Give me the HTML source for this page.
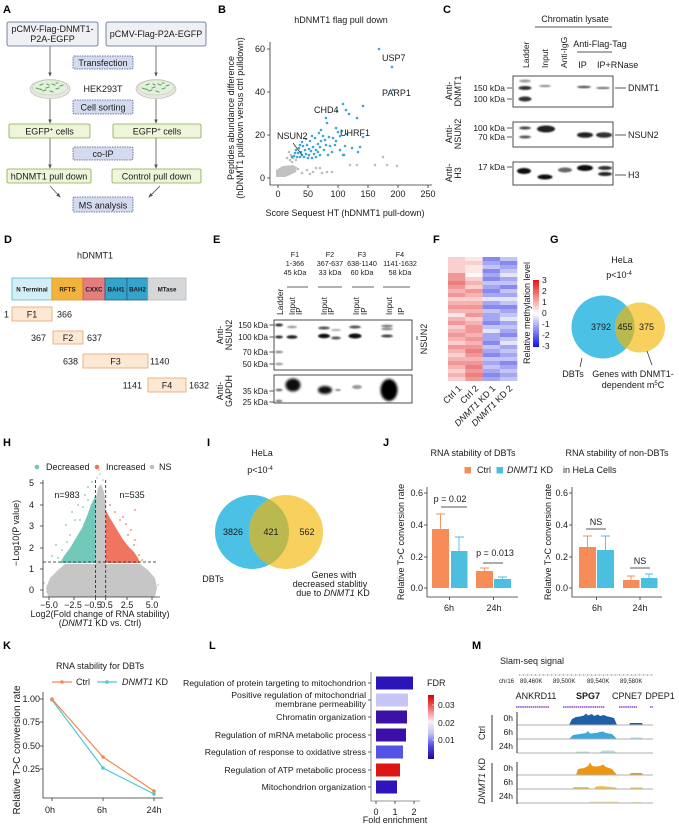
<!DOCTYPE html>
<html><head><meta charset="utf-8"><title>Figure</title>
<style>html,body{margin:0;padding:0;background:#fff}svg{display:block}</style>
</head><body>
<svg xmlns="http://www.w3.org/2000/svg" width="679" height="824" viewBox="0 0 679 824" font-family="'Liberation Sans', Arial, sans-serif" font-size="9" fill="#1a1a1a">
<defs>
 <marker id="ah" viewBox="0 0 6 6" refX="5" refY="3" markerWidth="5" markerHeight="5" orient="auto"><path d="M0,0.5L6,3L0,5.5z" fill="#555"/></marker>
 <filter id="bl" x="-50%" y="-200%" width="200%" height="500%"><feGaussianBlur stdDeviation="0.7"/></filter>
 <filter id="bl2" x="-50%" y="-50%" width="200%" height="200%"><feGaussianBlur stdDeviation="1.4"/></filter>
 <linearGradient id="mcb" x1="0" y1="0" x2="0" y2="1"><stop offset="0" stop-color="#ee1111"/><stop offset="0.5" stop-color="#ffffff"/><stop offset="1" stop-color="#1111ee"/></linearGradient>
 <linearGradient id="fdr" x1="0" y1="0" x2="0" y2="1"><stop offset="0" stop-color="#d40000"/><stop offset="0.2" stop-color="#ee6a6a"/><stop offset="0.42" stop-color="#f8eef4"/><stop offset="0.6" stop-color="#c4c4f4"/><stop offset="0.8" stop-color="#4a4ae2"/><stop offset="1" stop-color="#1e0a8e"/></linearGradient>
 <clipPath id="gc"><circle cx="603" cy="327" r="31.5"/></clipPath>
 <clipPath id="ic"><circle cx="252" cy="532" r="37"/></clipPath>
</defs>
<rect width="679" height="824" fill="#fff"/>

<!-- Panel letters -->
<g font-weight="bold" font-size="11" fill="#000">
<text x="3" y="13">A</text><text x="218" y="13">B</text><text x="443" y="13">C</text>
<text x="4" y="243">D</text><text x="213" y="243">E</text><text x="433" y="243">F</text><text x="550" y="243">G</text>
<text x="3" y="446">H</text><text x="207" y="446">I</text><text x="383" y="446">J</text>
<text x="3" y="649">K</text><text x="209" y="649">L</text><text x="472" y="649">M</text>
</g>

<!-- ============ Panel A ============ -->
<g stroke-width="0.8">
<rect x="7" y="22" width="91" height="24" rx="2" fill="#eef0f3" stroke="#55688c"/>
<rect x="106" y="22" width="100" height="24" rx="2" fill="#eef0f3" stroke="#55688c"/>
</g>
<g text-anchor="middle">
<text x="52.5" y="32">pCMV-Flag-DNMT1-</text>
<text x="52.5" y="42">P2A-EGFP</text>
<text x="156" y="37">pCMV-Flag-P2A-EGFP</text>
</g>
<g stroke="#666" stroke-width="0.9" fill="none" marker-end="url(#ah)">
<path d="M50,46V76"/><path d="M156,46V76"/>
<path d="M50,99V123"/><path d="M156,99V123"/>
<path d="M50,138V168"/><path d="M156,138V168"/>
<path d="M50,186L60,197"/><path d="M160,186L149,197"/>
</g>
<g id="dish">
<ellipse cx="50" cy="89" rx="20" ry="9.5" fill="#e9e5df" stroke="#b9b2a8" stroke-width="0.6"/>
<ellipse cx="50" cy="87.5" rx="17.5" ry="7.5" fill="#e3efdf" stroke="#c8c0b5" stroke-width="0.5"/>
<path d="M40,85l3,-1M46,88l3,-1M52,84l3,1M56,89l3,-1M43,91l3,-1M60,86l3,-1M36,88l3,1M50,91l3,1M47,84l2,1M56,83l2,0M40,89l2,1" stroke="#5aa84a" stroke-width="1.1" stroke-linecap="round"/>
</g>
<use href="#dish" x="106"/>
<text x="103" y="92" text-anchor="middle">HEK293T</text>
<g fill="#d4dbef" stroke="#4a5a8a" stroke-width="0.8" stroke-dasharray="1.5,1">
<rect x="73" y="56" width="60" height="13" rx="1.5"/>
<rect x="73" y="100" width="60" height="14" rx="1.5"/>
<rect x="73" y="147" width="60" height="13" rx="1.5"/>
<rect x="73" y="197" width="60" height="15" rx="1.5"/>
</g>
<g text-anchor="middle">
<text x="103" y="66">Transfection</text>
<text x="103" y="110.5">Cell sorting</text>
<text x="103" y="157">co-IP</text>
<text x="103" y="208.5">MS analysis</text>
</g>
<g fill="#edf5da" stroke="#8da74e" stroke-width="0.8">
<rect x="9" y="124" width="81" height="14" rx="1.5"/>
<rect x="113" y="124" width="88" height="14" rx="1.5"/>
<rect x="7" y="169" width="84" height="14" rx="1.5"/>
<rect x="112" y="169" width="89" height="14" rx="1.5"/>
</g>
<g text-anchor="middle">
<text x="49.5" y="134.5">EGFP<tspan font-size="6" dy="-3">+</tspan><tspan dy="3"> cells</tspan></text>
<text x="157" y="134.5">EGFP<tspan font-size="6" dy="-3">+</tspan><tspan dy="3"> cells</tspan></text>
<text x="49" y="179.5">hDNMT1 pull down</text>
<text x="156.5" y="179.5">Control pull down</text>
</g>

<!-- ============ Panel B ============ -->
<text x="341" y="23" text-anchor="middle">hDNMT1 flag pull down</text>
<g stroke="#333" stroke-width="0.8" fill="none">
<path d="M270,42V185H432"/>
<path d="M267,49H270M267,92H270M267,135H270M267,178H270"/>
<path d="M278,185V188M308,185V188M338,185V188M368,185V188M398,185V188M428,185V188"/>
</g>
<g text-anchor="end"><text x="265" y="52">60</text><text x="265" y="95">40</text><text x="265" y="138">20</text><text x="265" y="181">0</text></g>
<g text-anchor="middle"><text x="278" y="197">0</text><text x="308" y="197">50</text><text x="338" y="197">100</text><text x="368" y="197">150</text><text x="398" y="197">200</text><text x="428" y="197">250</text></g>
<text x="345" y="216" text-anchor="middle">Score Sequest HT (hDNMT1 pull-down)</text>
<g text-anchor="middle">
<text transform="translate(234,118) rotate(-90)">Peptides abundance difference</text>
<text transform="translate(243,118) rotate(-90)">(hDNMT1 pulldown versus ctrl pulldown)</text>
</g>
<path d="M276,170L283,166L293,165L297,167L296,172L290,175L285,177L276,177Z" fill="#c2c2c2"/>
<path d="M289,152h0M291,155h0M293,158h0M296,160h0M290,160h0M287,158h0M292,162h0M302,173h0M307,170h0M313,172h0M320,168h0M322,173h0M327,172h0M332,172h0M350,165h0M357,165h0M375,165h0M387,165h0M397,166h0M383,157h0M282,168h0M288,170h0M280,174h0M298,169h0M310,174h0M316,168h0" stroke="#bdbdbd" stroke-width="2.6" stroke-linecap="round"/>
<path d="M379,49h0M392,67h0M393,90h0M343,104h0M346,110h0M337,111h0M363,106h0M357,118h0M326,118h0M327,123h0M349,114h0M336,128h0M338,132h0M342,131h0M347,134h0M340,136h0M333,138h0M329,137h0M325,140h0M321,141h0M318,144h0M330,146h0M335,145h0M345,146h0M352,148h0M340,150h0M324,150h0M316,150h0M360,147h0M358,152h0M344,155h0M332,152h0M328,155h0M320,155h0M313,147h0M310,141h0M307,145h0M305,150h0M309,155h0M301,152h0M299,148h0M303,146h0M296,150h0M298,153h0M294,156h0M297,157h0M300,157h0M304,157h0M308,158h0M312,158h0M316,157h0M302,142h0M306,139h0M312,136h0M315,138h0M319,133h0M321,130h0M300,145h0M311,151h0M314,154h0M320,147h0M326,145h0M336,141h0M363,137h0M343,155h0M323,136h0M295,153h0M292,157h0M306,154h0M302,155h0M318,152h0M309,149h0" stroke="#3da5dc" stroke-width="2.6" stroke-linecap="round"/>
<path d="M293,143L302,155" stroke="#222" stroke-width="0.7"/>
<text x="382" y="61">USP7</text>
<text x="382" y="96">PARP1</text>
<text x="314" y="113">CHD4</text>
<text x="340" y="136">UHRF1</text>
<text x="277" y="139">NSUN2</text>

<!-- ============ Panel C ============ -->
<text x="575" y="22" text-anchor="middle">Chromatin lysate</text>
<path d="M535,27H612M577,52H612" stroke="#222" stroke-width="0.8"/>
<text x="600" y="47" text-anchor="middle">Anti-Flag-Tag</text>
<g font-size="8.5">
<text transform="translate(529,68) rotate(-90)">Ladder</text>
<text transform="translate(548,68) rotate(-90)">Input</text>
<text transform="translate(567,68) rotate(-90)">Anti-IgG</text>
</g>
<text x="582.5" y="68" text-anchor="middle">IP</text>
<text x="597" y="68">IP+RNase</text>
<g fill="#fff" stroke="#222" stroke-width="0.8">
<rect x="513" y="76" width="100" height="31"/>
<rect x="513" y="122" width="100" height="25"/>
<rect x="513" y="162" width="100" height="23"/>
</g>
<g filter="url(#bl)">
<ellipse cx="525" cy="81" rx="6" ry="1.5" fill="#999"/>
<ellipse cx="525" cy="88" rx="6.5" ry="2" fill="#333"/>
<ellipse cx="525" cy="99" rx="6.5" ry="2.5" fill="#333"/>
<ellipse cx="545" cy="86" rx="6" ry="1" fill="#888"/>
<ellipse cx="584" cy="87" rx="7" ry="1.2" fill="#555"/>
<ellipse cx="603" cy="88" rx="7" ry="1" fill="#666"/>
<ellipse cx="525" cy="128" rx="6" ry="1.5" fill="#444"/>
<ellipse cx="525" cy="137" rx="6" ry="1.5" fill="#555"/>
<ellipse cx="546" cy="129" rx="9" ry="3.5" fill="#222"/>
<ellipse cx="585" cy="135" rx="8" ry="2.8" fill="#222"/>
<ellipse cx="604" cy="135" rx="8" ry="2.8" fill="#333"/>
<ellipse cx="524" cy="171" rx="7" ry="3" fill="#111"/>
<ellipse cx="545" cy="177" rx="7.5" ry="2.5" fill="#111"/>
<ellipse cx="565" cy="170" rx="7" ry="2.5" fill="#666"/>
<ellipse cx="585" cy="168" rx="8" ry="3" fill="#111"/>
<ellipse cx="605" cy="168" rx="7" ry="2" fill="#333"/>
<ellipse cx="605" cy="174" rx="7" ry="2" fill="#222"/>
</g>
<g font-size="8.5" text-anchor="end">
<text x="505" y="91">150 kDa</text><text x="505" y="102">100 kDa</text>
<text x="505" y="131">100 kDa</text><text x="505" y="140">70 kDa</text>
<text x="505" y="170">17 kDa</text>
</g>
<path d="M507,88H512M507,99H512M507,128H512M507,137H512M507,167H512M615,88H626M615,135H626M615,175H626" stroke="#222" stroke-width="0.8"/>
<text x="628" y="91">DNMT1</text>
<text x="628" y="138">NSUN2</text>
<text x="628" y="178">H3</text>
<g text-anchor="middle">
<text transform="translate(452,91) rotate(-90)">Anti-</text>
<text transform="translate(461,91) rotate(-90)">DNMT1</text>
<text transform="translate(452,134) rotate(-90)">Anti-</text>
<text transform="translate(461,134) rotate(-90)">NSUN2</text>
<text transform="translate(452,173) rotate(-90)">Anti-</text>
<text transform="translate(461,173) rotate(-90)">H3</text>
</g>

<!-- ============ Panel D ============ -->
<text x="95" y="258.5" text-anchor="middle">hDNMT1</text>
<g stroke-width="0.8">
<rect x="12" y="278" width="40" height="22" fill="#d4eef5" stroke="#55b8d5"/>
<rect x="52" y="278" width="31" height="22" fill="#f2b33d" stroke="#d59a2c"/>
<rect x="83" y="278" width="22" height="22" fill="#e47d7e" stroke="#c86060"/>
<rect x="105" y="278" width="22" height="22" fill="#36a3cb" stroke="#1d5f80"/>
<rect x="127" y="278" width="21" height="22" fill="#36a3cb" stroke="#1d5f80"/>
<rect x="148" y="278" width="38" height="22" fill="#d5d7d9" stroke="#b8babc"/>
</g>
<g font-size="6.2" font-weight="bold" text-anchor="middle">
<text x="32" y="291.5">N Terminal</text><text x="67.5" y="291.5">RFTS</text><text x="94" y="291.5">CXXC</text>
<text x="116" y="291.5">BAH1</text><text x="137.5" y="291.5">BAH2</text><text x="167" y="291.5">MTase</text>
</g>
<g fill="#fde8d4" stroke="#e8a46e" stroke-width="0.8">
<rect x="12" y="307" width="40" height="14"/>
<rect x="53" y="331" width="30" height="13"/>
<rect x="83" y="354" width="65" height="14"/>
<rect x="148" y="378" width="38" height="14"/>
</g>
<g text-anchor="middle"><text x="32" y="317.5">F1</text><text x="68" y="341">F2</text><text x="115.5" y="364.5">F3</text><text x="167" y="388.5">F4</text><text x="6.5" y="317.5">1</text></g>
<text x="57" y="317.5">366</text>
<text x="46" y="341" text-anchor="end">367</text><text x="87" y="341">637</text>
<text x="78" y="364.5" text-anchor="end">638</text><text x="150" y="364.5">1140</text>
<text x="142" y="388.5" text-anchor="end">1141</text><text x="189" y="388.5">1632</text>

<!-- ============ Panel E ============ -->
<g font-size="7.2" text-anchor="middle">
<text x="295" y="257">F1</text><text x="295" y="266">1-366</text><text x="295" y="275">45 kDa</text>
<text x="330" y="257">F2</text><text x="330" y="266">367-637</text><text x="330" y="275">33 kDa</text>
<text x="362" y="257">F3</text><text x="362" y="266">638-1140</text><text x="362" y="275">60 kDa</text>
<text x="400" y="257">F4</text><text x="400" y="266">1141-1632</text><text x="400" y="275">58 kDa</text>
</g>
<path d="M287,287H308M318,287H342M352,287H374M383,287H410" stroke="#333" stroke-width="0.7"/>
<g font-size="8">
<text transform="translate(283,315) rotate(-90)" font-size="8.5">Ladder</text>
<text transform="translate(295,315) rotate(-90)">Input</text>
<text transform="translate(302,315) rotate(-90)">IP</text>
<text transform="translate(327,315) rotate(-90)">Input</text>
<text transform="translate(334,315) rotate(-90)">IP</text>
<text transform="translate(359,315) rotate(-90)">Input</text>
<text transform="translate(367,315) rotate(-90)">IP</text>
<text transform="translate(392,315) rotate(-90)">Input</text>
<text transform="translate(404,315) rotate(-90)">IP</text>
</g>
<g fill="#fff" stroke="#222" stroke-width="0.8">
<rect x="274" y="320" width="138" height="50"/>
<rect x="274" y="375" width="138" height="28"/>
</g>
<g filter="url(#bl)">
<ellipse cx="279" cy="325" rx="4" ry="1.5" fill="#333"/>
<ellipse cx="279" cy="337" rx="4" ry="1.5" fill="#333"/>
<ellipse cx="279" cy="352" rx="4" ry="1.2" fill="#888"/>
<ellipse cx="279" cy="364" rx="4" ry="1.2" fill="#999"/>
<ellipse cx="292" cy="327" rx="5" ry="1.2" fill="#999"/>
<ellipse cx="292" cy="337" rx="5.5" ry="1.8" fill="#222"/>
<ellipse cx="324" cy="328" rx="6" ry="1.5" fill="#555"/>
<ellipse cx="324" cy="336" rx="6" ry="2.2" fill="#111"/>
<ellipse cx="336" cy="330" rx="5" ry="1" fill="#aaa"/>
<ellipse cx="336" cy="338" rx="5" ry="1.5" fill="#555"/>
<ellipse cx="355" cy="327" rx="6" ry="1.5" fill="#555"/>
<ellipse cx="355" cy="336" rx="6.5" ry="2.5" fill="#111"/>
<ellipse cx="387" cy="326" rx="6" ry="1.2" fill="#777"/>
<ellipse cx="387" cy="329" rx="6" ry="1.2" fill="#888"/>
<ellipse cx="387" cy="336" rx="6" ry="1.5" fill="#444"/>
<ellipse cx="279" cy="390" rx="3.5" ry="1.2" fill="#666"/>
<ellipse cx="279" cy="401" rx="3.5" ry="1.2" fill="#777"/>
<ellipse cx="338" cy="390" rx="3" ry="1" fill="#888"/>
<ellipse cx="357" cy="387" rx="5" ry="2" fill="#999"/>
</g>
<g filter="url(#bl2)">
<ellipse cx="293" cy="385" rx="7.5" ry="6.5" fill="#111"/>
<ellipse cx="325" cy="390" rx="7" ry="4" fill="#111"/>
<ellipse cx="389" cy="390" rx="8.5" ry="11" fill="#000"/>
</g>
<g font-size="8" text-anchor="end">
<text x="268" y="328">150 kDa</text><text x="268" y="340">100 kDa</text><text x="268" y="355">70 kDa</text><text x="268" y="367">50 kDa</text>
<text x="268" y="394">35 kDa</text><text x="268" y="405">25 kDa</text>
</g>
<path d="M269.5,325H273.5M269.5,337H273.5M269.5,352H273.5M269.5,364H273.5M269.5,391H273.5M269.5,402H273.5M417,336V340" stroke="#222" stroke-width="0.8"/>
<g text-anchor="middle">
<text transform="translate(223,335) rotate(-90)">Anti-</text>
<text transform="translate(232,335) rotate(-90)">NSUN2</text>
<text transform="translate(223,391) rotate(-90)">Anti-</text>
<text transform="translate(232,391) rotate(-90)">GAPDH</text>
<text transform="translate(427,339) rotate(-90)">NSUN2</text>
</g>

<!-- ============ Panel F ============ -->
<g>
<rect x="448" y="257" width="17.4" height="4" fill="#f9cfcf"/><rect x="448" y="261" width="17.4" height="4" fill="#f9cfcf"/><rect x="448" y="265" width="17.4" height="4" fill="#f9cfcf"/><rect x="448" y="269" width="17.4" height="4" fill="#f9cfcf"/><rect x="448" y="273" width="17.4" height="4" fill="#f19797"/><rect x="448" y="277" width="17.4" height="4" fill="#f19797"/><rect x="448" y="281" width="17.4" height="4" fill="#ec7f7f"/><rect x="448" y="285" width="17.4" height="4" fill="#f19797"/><rect x="448" y="289" width="17.4" height="4" fill="#f5b3b3"/><rect x="448" y="293" width="17.4" height="4" fill="#f19797"/><rect x="448" y="297" width="17.4" height="4" fill="#f9cfcf"/><rect x="448" y="301" width="17.4" height="4" fill="#f5b3b3"/><rect x="448" y="305" width="17.4" height="4" fill="#f19797"/><rect x="448" y="309" width="17.4" height="4" fill="#f5b3b3"/><rect x="448" y="313" width="17.4" height="4" fill="#fde6e6"/><rect x="448" y="317" width="17.4" height="4" fill="#f5b3b3"/><rect x="448" y="321" width="17.4" height="4" fill="#f19797"/><rect x="448" y="325" width="17.4" height="4" fill="#f9cfcf"/><rect x="448" y="329" width="17.4" height="4" fill="#f5b3b3"/><rect x="448" y="333" width="17.4" height="4" fill="#f19797"/><rect x="448" y="337" width="17.4" height="4" fill="#f5b3b3"/><rect x="448" y="341" width="17.4" height="4" fill="#f9cfcf"/><rect x="448" y="345" width="17.4" height="4" fill="#f19797"/><rect x="448" y="349" width="17.4" height="4" fill="#f5b3b3"/><rect x="448" y="353" width="17.4" height="4" fill="#f9cfcf"/><rect x="448" y="357" width="17.4" height="4" fill="#f5b3b3"/><rect x="448" y="361" width="17.4" height="4" fill="#f19797"/><rect x="448" y="365" width="17.4" height="4" fill="#f5b3b3"/><rect x="448" y="369" width="17.4" height="4" fill="#f9cfcf"/><rect x="448" y="373" width="17.4" height="4" fill="#f5b3b3"/><rect x="448" y="377" width="17.4" height="4" fill="#f9cfcf"/>
<rect x="465.3" y="257" width="17.4" height="4" fill="#fde6e6"/><rect x="465.3" y="261" width="17.4" height="4" fill="#f9cfcf"/><rect x="465.3" y="265" width="17.4" height="4" fill="#fde6e6"/><rect x="465.3" y="269" width="17.4" height="4" fill="#fde6e6"/><rect x="465.3" y="273" width="17.4" height="4" fill="#fff6f6"/><rect x="465.3" y="277" width="17.4" height="4" fill="#f9cfcf"/><rect x="465.3" y="281" width="17.4" height="4" fill="#f5b3b3"/><rect x="465.3" y="285" width="17.4" height="4" fill="#f9cfcf"/><rect x="465.3" y="289" width="17.4" height="4" fill="#f19797"/><rect x="465.3" y="293" width="17.4" height="4" fill="#f5b3b3"/><rect x="465.3" y="297" width="17.4" height="4" fill="#f9cfcf"/><rect x="465.3" y="301" width="17.4" height="4" fill="#f5b3b3"/><rect x="465.3" y="305" width="17.4" height="4" fill="#f19797"/><rect x="465.3" y="309" width="17.4" height="4" fill="#f5b3b3"/><rect x="465.3" y="313" width="17.4" height="4" fill="#f19797"/><rect x="465.3" y="317" width="17.4" height="4" fill="#f9cfcf"/><rect x="465.3" y="321" width="17.4" height="4" fill="#f5b3b3"/><rect x="465.3" y="325" width="17.4" height="4" fill="#f19797"/><rect x="465.3" y="329" width="17.4" height="4" fill="#f19797"/><rect x="465.3" y="333" width="17.4" height="4" fill="#f5b3b3"/><rect x="465.3" y="337" width="17.4" height="4" fill="#f19797"/><rect x="465.3" y="341" width="17.4" height="4" fill="#f5b3b3"/><rect x="465.3" y="345" width="17.4" height="4" fill="#f19797"/><rect x="465.3" y="349" width="17.4" height="4" fill="#ec7f7f"/><rect x="465.3" y="353" width="17.4" height="4" fill="#f19797"/><rect x="465.3" y="357" width="17.4" height="4" fill="#f5b3b3"/><rect x="465.3" y="361" width="17.4" height="4" fill="#f19797"/><rect x="465.3" y="365" width="17.4" height="4" fill="#ec7f7f"/><rect x="465.3" y="369" width="17.4" height="4" fill="#f19797"/><rect x="465.3" y="373" width="17.4" height="4" fill="#ec7f7f"/><rect x="465.3" y="377" width="17.4" height="4" fill="#f19797"/>
<rect x="482.6" y="257" width="17.4" height="4" fill="#8789ee"/><rect x="482.6" y="261" width="17.4" height="4" fill="#a5a7f2"/><rect x="482.6" y="265" width="17.4" height="4" fill="#c4c5f6"/><rect x="482.6" y="269" width="17.4" height="4" fill="#8789ee"/><rect x="482.6" y="273" width="17.4" height="4" fill="#a5a7f2"/><rect x="482.6" y="277" width="17.4" height="4" fill="#8789ee"/><rect x="482.6" y="281" width="17.4" height="4" fill="#c4c5f6"/><rect x="482.6" y="285" width="17.4" height="4" fill="#a5a7f2"/><rect x="482.6" y="289" width="17.4" height="4" fill="#8789ee"/><rect x="482.6" y="293" width="17.4" height="4" fill="#a5a7f2"/><rect x="482.6" y="297" width="17.4" height="4" fill="#e4e4fb"/><rect x="482.6" y="301" width="17.4" height="4" fill="#a5a7f2"/><rect x="482.6" y="305" width="17.4" height="4" fill="#8789ee"/><rect x="482.6" y="309" width="17.4" height="4" fill="#c4c5f6"/><rect x="482.6" y="313" width="17.4" height="4" fill="#a5a7f2"/><rect x="482.6" y="317" width="17.4" height="4" fill="#a5a7f2"/><rect x="482.6" y="321" width="17.4" height="4" fill="#8789ee"/><rect x="482.6" y="325" width="17.4" height="4" fill="#c4c5f6"/><rect x="482.6" y="329" width="17.4" height="4" fill="#e4e4fb"/><rect x="482.6" y="333" width="17.4" height="4" fill="#a5a7f2"/><rect x="482.6" y="337" width="17.4" height="4" fill="#a5a7f2"/><rect x="482.6" y="341" width="17.4" height="4" fill="#8789ee"/><rect x="482.6" y="345" width="17.4" height="4" fill="#c4c5f6"/><rect x="482.6" y="349" width="17.4" height="4" fill="#a5a7f2"/><rect x="482.6" y="353" width="17.4" height="4" fill="#8789ee"/><rect x="482.6" y="357" width="17.4" height="4" fill="#c4c5f6"/><rect x="482.6" y="361" width="17.4" height="4" fill="#a5a7f2"/><rect x="482.6" y="365" width="17.4" height="4" fill="#c4c5f6"/><rect x="482.6" y="369" width="17.4" height="4" fill="#a5a7f2"/><rect x="482.6" y="373" width="17.4" height="4" fill="#8789ee"/><rect x="482.6" y="377" width="17.4" height="4" fill="#a5a7f2"/>
<rect x="499.9" y="257" width="17.4" height="4" fill="#c4c5f6"/><rect x="499.9" y="261" width="17.4" height="4" fill="#8789ee"/><rect x="499.9" y="265" width="17.4" height="4" fill="#a5a7f2"/><rect x="499.9" y="269" width="17.4" height="4" fill="#c4c5f6"/><rect x="499.9" y="273" width="17.4" height="4" fill="#e4e4fb"/><rect x="499.9" y="277" width="17.4" height="4" fill="#a5a7f2"/><rect x="499.9" y="281" width="17.4" height="4" fill="#c4c5f6"/><rect x="499.9" y="285" width="17.4" height="4" fill="#8789ee"/><rect x="499.9" y="289" width="17.4" height="4" fill="#c4c5f6"/><rect x="499.9" y="293" width="17.4" height="4" fill="#a5a7f2"/><rect x="499.9" y="297" width="17.4" height="4" fill="#e4e4fb"/><rect x="499.9" y="301" width="17.4" height="4" fill="#c4c5f6"/><rect x="499.9" y="305" width="17.4" height="4" fill="#8789ee"/><rect x="499.9" y="309" width="17.4" height="4" fill="#a5a7f2"/><rect x="499.9" y="313" width="17.4" height="4" fill="#c4c5f6"/><rect x="499.9" y="317" width="17.4" height="4" fill="#e4e4fb"/><rect x="499.9" y="321" width="17.4" height="4" fill="#a5a7f2"/><rect x="499.9" y="325" width="17.4" height="4" fill="#c4c5f6"/><rect x="499.9" y="329" width="17.4" height="4" fill="#a5a7f2"/><rect x="499.9" y="333" width="17.4" height="4" fill="#8789ee"/><rect x="499.9" y="337" width="17.4" height="4" fill="#c4c5f6"/><rect x="499.9" y="341" width="17.4" height="4" fill="#e4e4fb"/><rect x="499.9" y="345" width="17.4" height="4" fill="#a5a7f2"/><rect x="499.9" y="349" width="17.4" height="4" fill="#c4c5f6"/><rect x="499.9" y="353" width="17.4" height="4" fill="#a5a7f2"/><rect x="499.9" y="357" width="17.4" height="4" fill="#c4c5f6"/><rect x="499.9" y="361" width="17.4" height="4" fill="#8789ee"/><rect x="499.9" y="365" width="17.4" height="4" fill="#a5a7f2"/><rect x="499.9" y="369" width="17.4" height="4" fill="#c4c5f6"/><rect x="499.9" y="373" width="17.4" height="4" fill="#a5a7f2"/><rect x="499.9" y="377" width="17.4" height="4" fill="#c4c5f6"/>
</g>
<rect x="533" y="280" width="6" height="67" fill="url(#mcb)"/>
<g font-size="8.5">
<text x="542" y="283">3</text><text x="542" y="294">2</text><text x="542" y="305">1</text><text x="542" y="316">0</text><text x="542" y="327">-1</text><text x="542" y="338">-2</text><text x="542" y="349">-3</text>
</g>
<text transform="translate(530,313) rotate(-90)" text-anchor="middle">Relative methylation level</text>
<g text-anchor="end">
<text transform="translate(462,389) rotate(-45)">Ctrl 1</text>
<text transform="translate(479,389) rotate(-45)">Ctrl 2</text>
<text transform="translate(496,389) rotate(-45)"><tspan font-style="italic">DNMT1</tspan> KD 1</text>
<text transform="translate(513,389) rotate(-45)"><tspan font-style="italic">DNMT1</tspan> KD 2</text>
</g>

<!-- ============ Panel G ============ -->
<text x="622" y="263" text-anchor="middle">HeLa</text>
<text x="619" y="278" text-anchor="middle">p&lt;10<tspan font-size="6" dy="-3">-4</tspan></text>
<circle cx="603" cy="327" r="31.5" fill="#4bc2e5"/>
<circle cx="640" cy="327.5" r="25" fill="#f7d05e"/>
<circle cx="640" cy="327.5" r="25" fill="#b9b94f" clip-path="url(#gc)"/>
<g text-anchor="middle">
<text x="601" y="330">3792</text><text x="625" y="330">455</text><text x="646.5" y="330">375</text>
<text x="573" y="377">DBTs</text>
<text x="633" y="377">Genes with DNMT1-</text>
<text x="633" y="388">dependent m<tspan font-size="6" dy="-3">5</tspan><tspan dy="3">C</tspan></text>
</g>
<path d="M582,358L580,367M647,351L652,365" stroke="#222" stroke-width="0.7"/>

<!-- ============ Panel H ============ -->
<circle cx="37" cy="467" r="2.3" fill="#72c8b9"/><text x="46" y="470">Decreased</text>
<circle cx="97" cy="467" r="2.3" fill="#f07560"/><text x="106" y="470">Increased</text>
<circle cx="152" cy="467" r="2.3" fill="#bdbdbd"/><text x="159" y="470">NS</text>
<path d="M48,597L46,588L50,578L58,570L65,564L140,564L148,570L155,578L157,588L155,597Z" fill="#c6c6c6"/>
<path d="M95.5,564V500L98,488L101,484L104,492L105.7,505V564Z" fill="#c6c6c6"/>
<path d="M60,563L64,556L70,548L76,538L82,528L87,516L91,505L95.5,495V563Z" fill="#72c8b9"/>
<path d="M105.7,563V510L110,518L116,528L122,538L128,546L134,552L138,558L140,563Z" fill="#f07560"/>
<path d="M52,556h0M56,545h0M66,525h0M72,512h0M78,505h0M85,495h0M88,487h0M92,482h0M80,520h0M70,535h0M62,550h0M75,520h0M83,507h0M88,500h0M58,558h0M67,542h0" stroke="#72c8b9" stroke-width="1.8" stroke-linecap="round"/>
<path d="M110,505h0M115,512h0M120,520h0M126,524h0M131,530h0M135,540h0M135,510h0M134,545h0M139,555h0M123,517h0M142,560h0M128,535h0" stroke="#f07560" stroke-width="1.8" stroke-linecap="round"/>
<path d="M97,478h0M100,474h0M103,480h0M99,470h0M47,592h0M158,585h0M152,580h0M44,583h0" stroke="#c6c6c6" stroke-width="1.8" stroke-linecap="round"/>
<g stroke="#222" stroke-width="0.8" fill="none" stroke-dasharray="3,2">
<path d="M95.5,480V597M105.7,480V597M43,562H157"/>
</g>
<g stroke="#333" stroke-width="0.8" fill="none">
<path d="M43,480V597H160"/>
<path d="M40,483H43M40,505H43M40,526H43M40,548H43M40,569H43M40,590H43"/>
<path d="M49,597V600M74,597V600M95.5,597V600M105.7,597V600M127,597V600M152,597V600"/>
</g>
<g text-anchor="end"><text x="34" y="486">5</text><text x="34" y="508">4</text><text x="34" y="529">3</text><text x="34" y="551">2</text><text x="34" y="572">1</text><text x="34" y="593">0</text></g>
<g text-anchor="middle">
<text x="49" y="608">−5.0</text><text x="73" y="608">−2.5</text><text x="93" y="608">−0.5</text><text x="106.5" y="608">0.5</text><text x="127" y="608">2.5</text><text x="152" y="608">5.0</text>
<text x="100" y="617">Log2(Fold change of RNA stability)</text>
<text x="100" y="626">(<tspan font-style="italic">DNMT1</tspan> KD vs. Ctrl)</text>
<text x="67" y="498">n=983</text><text x="132" y="498">n=535</text>
<text transform="translate(19,533) rotate(-90)">−Log10(P value)</text>
</g>

<!-- ============ Panel I ============ -->
<text x="262" y="456" text-anchor="middle">HeLa</text>
<text x="260" y="473" text-anchor="middle">p&lt;10<tspan font-size="6" dy="-3">-4</tspan></text>
<circle cx="252" cy="532" r="37" fill="#4bc2e5"/>
<circle cx="286" cy="532" r="37" fill="#f7d05e"/>
<circle cx="286" cy="532" r="37" fill="#b9b94f" clip-path="url(#ic)"/>
<g text-anchor="middle">
<text x="233" y="535">3826</text><text x="271" y="535">421</text><text x="307" y="535">562</text>
<text x="213" y="582">DBTs</text>
<text x="334" y="578">Genes with</text>
<text x="330" y="587">decreased stablitiy</text>
<text x="333" y="596">due to <tspan font-style="italic">DNMT1</tspan> KD</text>
</g>

<!-- ============ Panel J ============ -->
<g text-anchor="middle">
<text x="473" y="456">RNA stability of DBTs</text>
<text x="617" y="456">RNA stability of non-DBTs</text>
</g>
<rect x="464.5" y="467" width="6.5" height="6.5" fill="#f68c58"/>
<text x="477" y="473">Ctrl</text>
<rect x="496.5" y="467" width="6.5" height="6.5" fill="#4cbedf"/>
<text x="507" y="473"><tspan font-style="italic">DNMT1</tspan> KD</text>
<text x="563" y="473">in HeLa Cells</text>
<g fill="#f68c58">
<rect x="432" y="529" width="17" height="59"/><rect x="476" y="571" width="17" height="17"/>
<rect x="579" y="547" width="17" height="41"/><rect x="623" y="580" width="16.5" height="8"/>
</g>
<g fill="#4cbedf">
<rect x="451" y="551" width="16.5" height="37"/><rect x="494" y="579" width="17" height="9"/>
<rect x="597" y="550" width="17" height="38"/><rect x="641" y="578" width="16.5" height="10"/>
</g>
<g stroke-width="0.9" fill="none">
<path d="M440.5,529V514M436,514H445M484.5,571V568M480,568H489M587.5,547V536M583,536H592M631,580V576M627,576H635" stroke="#f68c58"/>
<path d="M459,551V537M455,537H464M502.5,579V577M498,577H507M605.5,550V536M601,536H610M649,578V574M645,574H653" stroke="#4cbedf"/>
</g>
<g stroke="#333" stroke-width="0.8" fill="none">
<path d="M427,487V597H518"/>
<path d="M424,493H427M424,525H427M424,557H427M424,588H427M449.5,597V600M493.5,597V600"/>
<path d="M572,487V597H662"/>
<path d="M569,493H572M569,525H572M569,557H572M569,588H572M596.5,597V600M640,597V600"/>
<path d="M441,507H467M483,563H503M586,529H606M630,568H650" stroke="#222"/>
</g>
<g text-anchor="end">
<text x="423" y="496">0.6</text><text x="423" y="528">0.4</text><text x="423" y="560">0.2</text><text x="423" y="591">0.0</text>
<text x="568" y="496">0.6</text><text x="568" y="528">0.4</text><text x="568" y="560">0.2</text><text x="568" y="591">0.0</text>
</g>
<g text-anchor="middle">
<text x="449" y="611">6h</text><text x="494" y="611">24h</text><text x="597" y="611">6h</text><text x="640" y="611">24h</text>
<text x="450" y="502">p = 0.02</text><text x="495" y="556">p = 0.013</text>
<text x="596" y="525">NS</text><text x="640" y="564">NS</text>
<text transform="translate(404,542) rotate(-90)">Relative T&gt;C conversion rate</text>
<text transform="translate(551,542) rotate(-90)">Relative T&gt;C conversion rate</text>
</g>

<!-- ============ Panel K ============ -->
<text x="100" y="669" text-anchor="middle">RNA stability for DBTs</text>
<path d="M52,682H72" stroke="#f5894f" stroke-width="1.2"/><circle cx="62" cy="682" r="1.8" fill="#f5894f"/>
<text x="76" y="685">Ctrl</text>
<path d="M97,682H117" stroke="#4fc8d4" stroke-width="1.2"/><circle cx="107" cy="682" r="1.8" fill="#4fc8d4"/>
<text x="122" y="685"><tspan font-style="italic">DNMT1</tspan> KD</text>
<g stroke="#333" stroke-width="0.8" fill="none">
<path d="M43,692V798H163"/>
<path d="M40,699H43M40,722H43M40,746H43M40,769H43M52,798V801M103,798V801M154,798V801"/>
</g>
<g text-anchor="end"><text x="40" y="702">1.00</text><text x="40" y="725">0.75</text><text x="40" y="749">0.50</text><text x="40" y="772">0.25</text></g>
<g text-anchor="middle"><text x="50" y="813">0h</text><text x="102" y="813">6h</text><text x="154" y="813">24h</text>
<text transform="translate(20,750) rotate(-90)" font-size="10">Relative T&gt;C conversion rate</text></g>
<polyline points="52,700 103,768 154,794" fill="none" stroke="#4fc8d4" stroke-width="1.2"/>
<polyline points="52,699 103,757 154,791" fill="none" stroke="#f5894f" stroke-width="1.2"/>
<g fill="#4fc8d4"><circle cx="52" cy="700" r="1.8"/><circle cx="103" cy="768" r="1.8"/><circle cx="154" cy="794" r="1.8"/></g>
<g fill="#f5894f"><circle cx="52" cy="699" r="1.8"/><circle cx="103" cy="757" r="1.8"/><circle cx="154" cy="791" r="1.8"/></g>

<!-- ============ Panel L ============ -->
<rect x="376" y="676.5" width="37" height="13" fill="#2b14b8"/>
<rect x="376" y="693.5" width="32" height="13" fill="#c5c6f5"/>
<rect x="376" y="710.5" width="31" height="13" fill="#3a12a5"/>
<rect x="376" y="728.5" width="30" height="13" fill="#3a10a8"/>
<rect x="376" y="745.5" width="27" height="13" fill="#5353e6"/>
<rect x="376" y="763.5" width="24" height="13" fill="#dd1515"/>
<rect x="376" y="780.5" width="21" height="13" fill="#2d14bd"/>
<g stroke="#999" stroke-width="1.1" fill="none">
<path d="M371,672V801H420"/>
</g>
<path d="M368,683H371M368,700H371M368,717H371M368,735H371M368,752H371M368,770H371M368,787H371M376,801V804M395,801V804M414,801V804" stroke="#333" stroke-width="0.8"/>
<g font-size="8.7" text-anchor="end">
<text x="366" y="686">Regulation of protein targeting to mitochondrion</text>
<text x="366" y="698">Positive regulation of mitochondrial</text>
<text x="366" y="707">membrane permeability</text>
<text x="366" y="720">Chromatin organization</text>
<text x="366" y="738">Regulation of mRNA metabolic process</text>
<text x="366" y="755">Regulation of response to oxidative stress</text>
<text x="366" y="773">Regulation of ATP metabolic process</text>
<text x="366" y="790">Mitochondrion organization</text>
</g>
<g text-anchor="middle"><text x="376" y="815">0</text><text x="395" y="815">1</text><text x="414" y="815">2</text><text x="395" y="823">Fold enrichment</text></g>
<text x="427" y="686">FDR</text>
<rect x="428" y="695" width="6" height="64" fill="url(#fdr)"/>
<path d="M432,705H434M432,723H434M432,740H434" stroke="#fff" stroke-width="0.6"/>
<g font-size="8.5"><text x="438" y="708">0.03</text><text x="438" y="726">0.02</text><text x="438" y="743">0.01</text></g>

<!-- ============ Panel M ============ -->
<text x="500" y="664">Slam-seq signal</text>
<path d="M519,675H653" stroke="#aaa" stroke-width="0.6"/>
<path d="M519,675H653" stroke="#888" stroke-width="1.6" stroke-dasharray="0.6,3.4"/>
<g font-size="6">
<text x="499" y="683">chr16</text><text x="520" y="683">89,460K</text><text x="553" y="683">89,500K</text><text x="587" y="683">89,540K</text><text x="620" y="683">89,580K</text>
</g>
<g text-anchor="middle">
<text x="536" y="699">ANKRD11</text>
<text x="588" y="699" font-weight="bold">SPG7</text>
<text x="627" y="699">CPNE7</text>
<text x="660" y="699">DPEP1</text>
</g>
<path d="M516,707H549M563,707H605M619,707H637M650,707H653" stroke="#8a44cc" stroke-width="1.6" stroke-dasharray="1.5,0.6"/>
<path d="M569,725L572,719L576,717L580,716.5L584,715.5L586,713.5L588,715.5L592,714L594,716L598,714.5L600,716L604,715L606,716L610,717L614,718L617,725ZM629,725L630,723L642,723L643,725Z" fill="#1f5fa6"/>
<path d="M569,739L573,735L580,734L586,733L588,731L590,733.5L596,733L600,732L603,731.5L606,733L612,734L617,739Z" fill="#3aaade"/>
<path d="M629,739L631,737.5L642,737.5L643,739Z" fill="#a9dcef"/>
<path d="M575,753L577,751.5L588,751.5L590,753ZM600,753L602,750.5L614,750.5L616,753Z" fill="#b0dde6"/>
<path d="M576,775L578,769L584,768L588,766L590,762.5L592,766L596,766.5L600,766L603,764.5L606,767L612,769L617,775ZM629,775L631,773L642,773L643,775Z" fill="#eb9713"/>
<path d="M572,789L574,787L588,787L590,789ZM594,789L596,786.5L602,786L610,787L616,787.5L617,789ZM629,789L631,787.5L642,787.5L643,789Z" fill="#f1c23c"/>
<path d="M588,803L590,801.5L618,801.5L620,803ZM630,803L632,802L641,802L643,803Z" fill="#f8e49a"/>
<path d="M517,725H653M517,739H653M517,753H653M517,775H653M517,789H653M517,803H653" stroke="#b0b0b0" stroke-width="1.1"/>
<path d="M517,712V753M517,762V804M492,715V750M492,763V802" stroke="#222" stroke-width="0.9"/>
<g font-size="8.5" text-anchor="end">
<text x="513" y="721">0h</text><text x="513" y="735">6h</text><text x="513" y="749">24h</text>
<text x="513" y="771">0h</text><text x="513" y="785">6h</text><text x="513" y="799">24h</text>
</g>
<g text-anchor="middle">
<text transform="translate(485,733) rotate(-90)">Ctrl</text>
<text transform="translate(485,781) rotate(-90)"><tspan font-style="italic">DNMT1</tspan> KD</text>
</g>
</svg>
</body></html>
